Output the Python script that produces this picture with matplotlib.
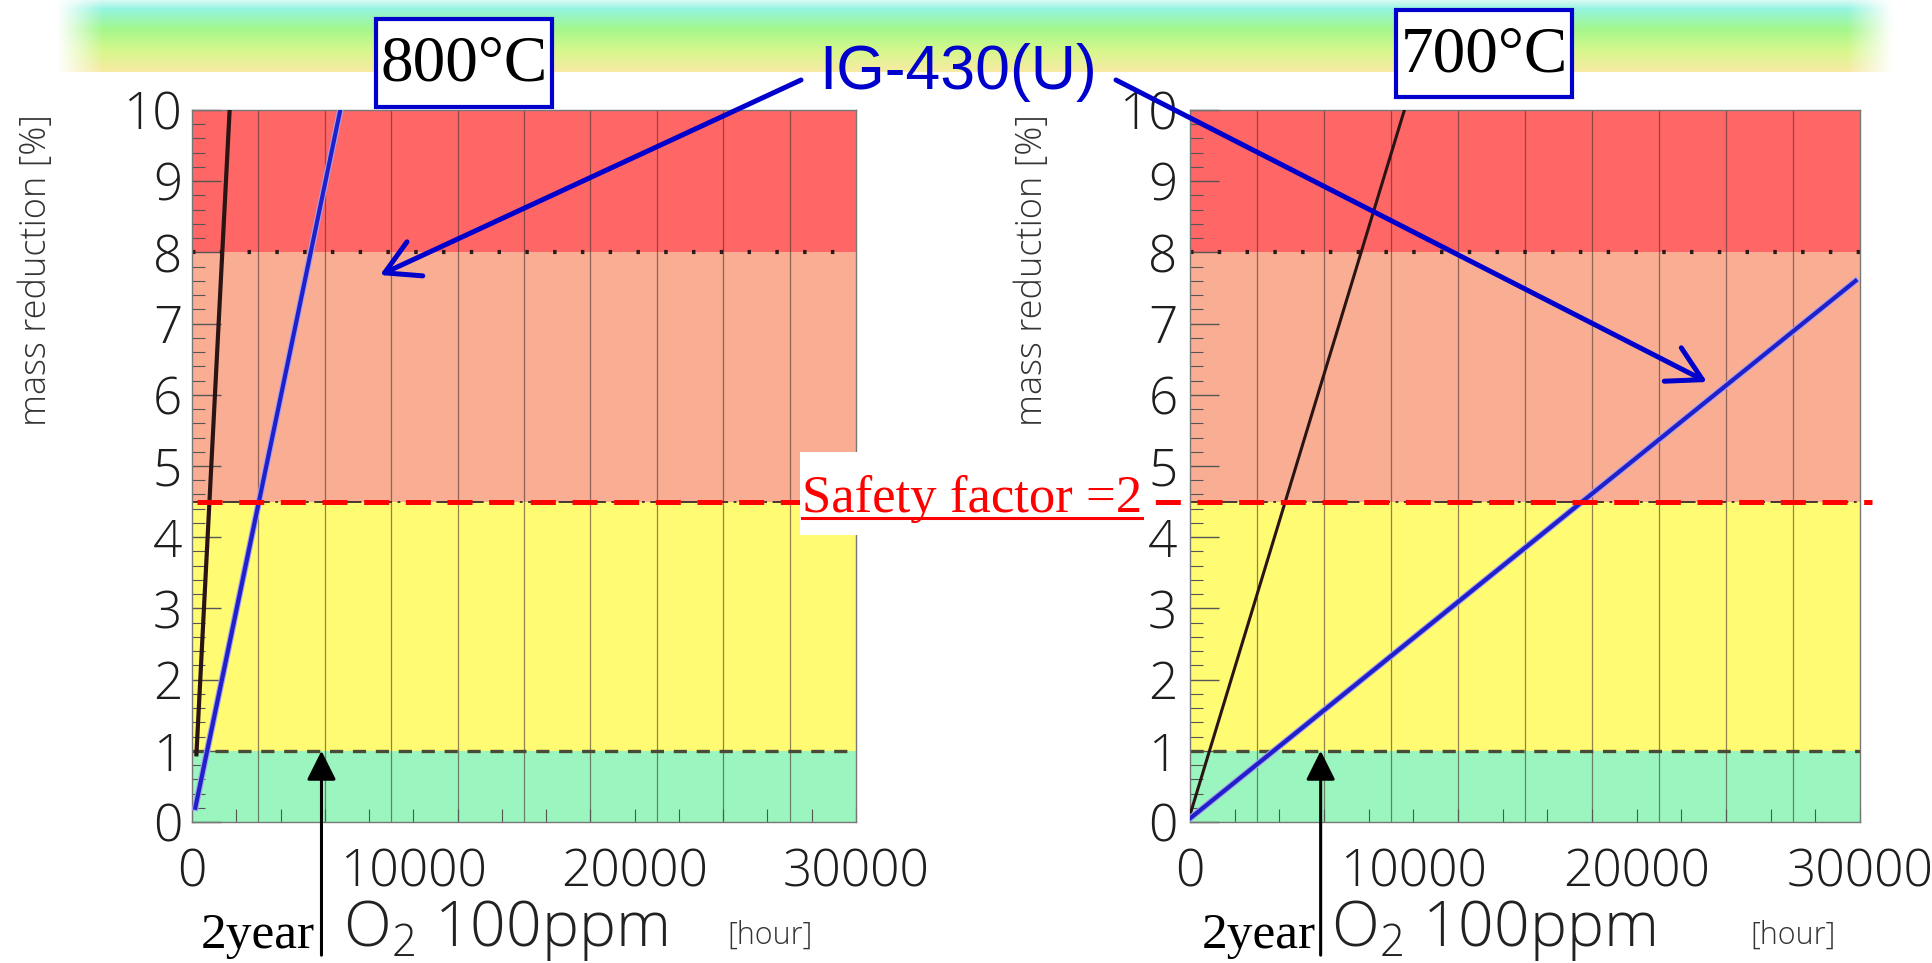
import numpy as np
import matplotlib
matplotlib.use("Agg")
import matplotlib.pyplot as plt
import matplotlib.patheffects as pe
import matplotlib.transforms as mtransforms
from matplotlib.patches import Rectangle
from matplotlib.ticker import MultipleLocator

plt.rcParams['font.family'] = ['Open Sans', 'DejaVu Sans']
plt.rcParams['font.weight'] = 'light'
plt.rcParams['lines.scale_dashes'] = False
plt.rcParams['mathtext.fontset'] = 'custom'
plt.rcParams['mathtext.rm'] = 'Open Sans:light'

# %% data (hour vs mass reduction %)
hours_800_black = [200, 1700]
mass_800_black = [0.95, 10.0]
hours_800_blue = [150, 6700]
mass_800_blue = [0.2, 10.0]

hours_700_black = [0, 9600]
mass_700_black = [0.1, 10.0]
hours_700_blue = [0, 29800]
mass_700_blue = [0.05, 7.6]

band_edges = [0, 1, 4.5, 8, 10]
safety_limit = 4.5
x_ticks = [0, 10000, 20000, 30000]
y_ticks = list(range(0, 11))
grid_step = 3000
two_year_hours = 5850

temps = ["800°C", "700°C"]
alloy = "IG-430(U)"
safety_text = "Safety factor =2"

band_colors = ['#9af5be', '#fffb73', '#f9ae94', '#ff6666']

# %% figure, pixel helpers
W, H = 1933, 963
fig = plt.figure(figsize=(W / 100, H / 100), dpi=100)


def px_axes(x0, x1, ytop, ybot, **kw):
    return fig.add_axes([x0 / W, 1 - ybot / H, (x1 - x0) / W, (ybot - ytop) / H], **kw)


# banner at the top
bg = px_axes(0, W, 0, H, zorder=-1)
bg.set_xlim(0, W)
bg.set_ylim(H, 0)
bg.axis('off')
rows, cols = 72, 400
stops = [0, 0.12, 0.4, 0.7, 1.0]
cols_rgb = np.array([[0.84, 0.98, 0.96], [0.58, 0.96, 0.88], [0.64, 0.97, 0.55],
                     [0.84, 0.97, 0.55], [0.97, 0.92, 0.64]])
t = np.linspace(0, 1, rows)
img = np.ones((rows, cols, 4))
for k in range(3):
    img[:, :, k] = np.interp(t, stops, cols_rgb[:, k])[:, None]
u = np.linspace(0, 1, cols)
img[:, :, 3] = np.clip(np.minimum(u, 1 - u) / 0.025, 0, 1)[None, :]
bg.imshow(img, extent=(55, 1895, 72, 0), aspect='auto', interpolation='bilinear')


def panel(ax, hb, mb, hu, mu, black_lw, ypad):
    for lo, hi, c in zip(band_edges[:-1], band_edges[1:], band_colors):
        ax.axhspan(lo, hi, fc=c, lw=0, zorder=0)
    for x in np.arange(grid_step, 30000, grid_step):
        ax.axvline(x, color='#4a3030', lw=0.9, alpha=0.6, zorder=1)
    ax.axhline(band_edges[1], color='#4a4a38', lw=2.4, dashes=(9.5, 7), zorder=2)
    ax.axhline(band_edges[2], color='#3a2a2a', lw=1.3, dashes=(12, 4, 2, 4), zorder=2)
    ax.axhline(band_edges[3], color='#2a1a1a', lw=3, dashes=(2.5, 17.5), zorder=2)
    ax.plot(hb, mb, color='#2b1414', lw=black_lw, zorder=3)
    ax.plot(hu, mu, color='#2020c8', lw=3.0, zorder=4,
            path_effects=[pe.Stroke(linewidth=4.6, foreground='#a8a0f0'), pe.Normal()])
    ax.set_xlim(0, 30000)
    ax.set_ylim(0, 10)
    ax.set_xticks(x_ticks)
    ax.set_yticks(y_ticks)
    ax.xaxis.set_minor_locator(MultipleLocator(2000))
    ax.yaxis.set_minor_locator(MultipleLocator(0.2))
    ax.tick_params(which='both', direction='in', color='#555555', labelcolor='#1e1e1e',
                   labelsize=37)
    ax.tick_params(axis='y', which='major', length=21, width=1, pad=ypad)
    ax.tick_params(axis='y', which='minor', length=9.5, width=0.8)
    ax.tick_params(axis='x', which='both', length=9.5, width=0.8, pad=18)
    for s in ax.spines.values():
        s.set_color('#777777')
        s.set_linewidth(1)
    # 2 year marker
    ax.annotate('', xy=(two_year_hours, band_edges[1]), xytext=(two_year_hours, -1.87),
                arrowprops=dict(arrowstyle='-|>,head_length=0.9,head_width=0.45', color='black',
                                lw=2.2, mutation_scale=20, shrinkA=0, shrinkB=0),
                annotation_clip=False, zorder=6)


ax1 = px_axes(192, 856, 110, 822)
ax2 = px_axes(1190, 1860, 110, 822)
panel(ax1, hours_800_black, mass_800_black, hours_800_blue, mass_800_blue, 3.0, 7)
panel(ax2, hours_700_black, mass_700_black, hours_700_blue, mass_700_blue, 2.2, 9)

# %% overlay for the slide annotations (pixel coordinates)
ov = px_axes(0, W, 0, H, zorder=5)
ov.axis('off')

# safety factor line across both panels
blend = mtransforms.blended_transform_factory(ov.transData, ax1.transData)
ov.plot([197, 1872], [safety_limit, safety_limit], transform=blend, color='red', lw=3.6,
        dashes=(18, 12), zorder=3)
ov.add_patch(Rectangle((800, 452), 345, 83, fc='white', ec='none', zorder=4))
ov.text(802, 512, safety_text, color='red', fontsize=38, family='Liberation Serif',
        fontweight='regular', va='baseline', ha='left', zorder=5)
ov.plot([802, 1142], [518, 518], color='red', lw=2.2, zorder=5)

# temperature boxes
for (bx, by, bh), label in zip([(376, 19, 88), (1396, 10, 87)], temps):
    ov.add_patch(Rectangle((bx, by), 176, bh, fc='white', ec='#0000cc', lw=3, zorder=4))
    ov.text(bx + 88, by + bh / 2 + 2, label, fontsize=47, family='Liberation Serif',
            fontweight='regular', ha='center', va='center', color='black', zorder=5)

# alloy label with arrows
ov.text(958, 72, alloy, fontsize=45, family='Liberation Sans', fontweight='regular',
        color='#0000cc', ha='center', va='center', zorder=5)
for tip, tail in [((380, 275), (801, 80)), ((1707, 382), (1116, 80))]:
    ov.annotate('', xy=tip, xytext=tail,
                arrowprops=dict(arrowstyle='->,head_length=0.8,head_width=0.45', color='#0000cc',
                                lw=3.6, mutation_scale=30, shrinkA=0, shrinkB=0), zorder=5)

# axis titles
for x in [37, 1033]:
    ov.text(x, 114, 'mass reduction [%]', rotation=90, ha='center', va='top', fontsize=26,
            color='#333333')
for xo, xh, xy in [(343, 727, 201), (1331, 1750, 1202)]:
    ov.text(xo, 946, 'O$_2$ 100ppm', fontsize=45, color='#222222', va='baseline', ha='left')
    ov.text(xh, 944, '[hour]', fontsize=22, color='#333333', va='baseline', ha='left')
    ov.text(xy, 948, '2year', fontsize=37, family='Liberation Serif', fontweight='regular',
            color='black', va='baseline', ha='left')

ov.set_xlim(0, W)
ov.set_ylim(H, 0)

fig.savefig('out.png', dpi=100, facecolor='white')
